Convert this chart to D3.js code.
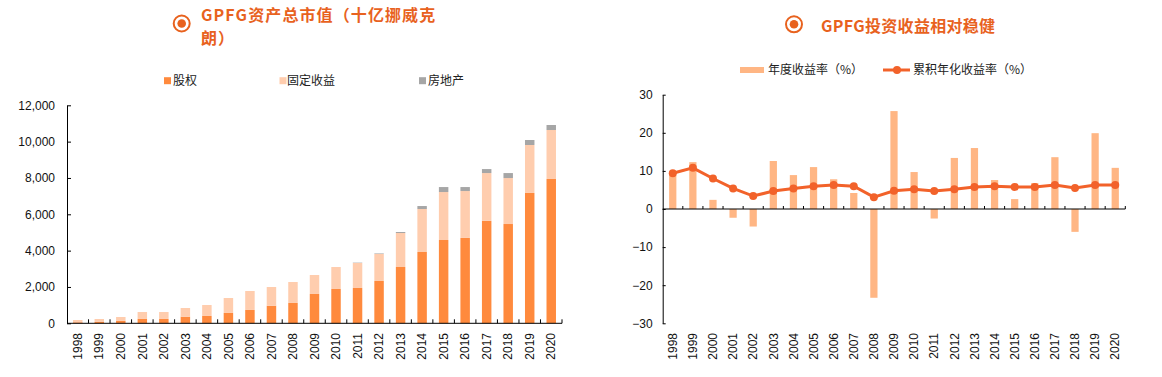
<!DOCTYPE html>
<html><head><meta charset="utf-8">
<script src="https://cdn.jsdelivr.net/npm/d3@7"></script>
<style>
body{margin:0;background:#fff;}
text{font-family:"Liberation Sans",Arial,sans-serif;}
.cjk{font-family:"Noto Sans CJK SC","Noto Sans",sans-serif;}
</style></head>
<body><svg id="c" width="1162" height="377"></svg>
<script>
const years = ["1998","1999","2000","2001","2002","2003","2004","2005","2006","2007","2008","2009","2010","2011","2012","2013","2014","2015","2016","2017","2018","2019","2020"];
// GPFG market value (billion NOK)
const equity = [55,75,130,240,240,365,405,570,735,965,1120,1615,1890,1945,2330,3100,3925,4585,4700,5640,5465,7175,7945];
const fixedIncome = [127,162,217,382,382,477,602,823,1043,1033,1153,1043,1208,1374,1484,1870,2365,2640,2580,2630,2530,2640,2695];
const realEstate = [0,0,0,0,0,0,0,0,0,0,0,0,0,20,30,55,165,275,220,220,275,275,275];
const leftYTicks = [0,2000,4000,6000,8000,10000,12000];
const leftSeriesNames = ["股权","固定收益","房地产"];
// returns (%)
const annualReturn = [9.4,12.3,2.4,-2.3,-4.6,12.6,8.9,11.0,7.8,4.2,-23.3,25.7,9.7,-2.5,13.4,16.0,7.6,2.6,6.8,13.6,-6.0,19.9,10.8];
const cumulativeReturn = [9.4,10.8,8.0,5.4,3.4,4.7,5.4,6.0,6.3,6.0,3.1,4.8,5.2,4.7,5.2,5.8,6.0,5.8,5.8,6.3,5.5,6.3,6.3];
const rightYTicks = [-30,-20,-10,0,10,20,30];
const rightSeriesNames = ["年度收益率（%）","累积年化收益率（%）"];

const C_EQ="#FF8A3D", C_FI="#FFCDAE", C_RE="#A6A6A6", C_BAR="#FFB684", C_LINE="#F2622A", C_TITLE="#E8621E";
const svg = d3.select("#c");

function titleIcon(cx, cy){
  svg.append("circle").attr("cx",cx).attr("cy",cy).attr("r",8).attr("fill","none").attr("stroke",C_TITLE).attr("stroke-width",2);
  svg.append("circle").attr("cx",cx).attr("cy",cy).attr("r",4.3).attr("fill",C_TITLE);
}

// ---------------- Left chart ----------------
titleIcon(181.7, 23.5);
const lt = svg.append("text").attr("class","cjk").attr("fill",C_TITLE).attr("font-size",16).attr("font-weight","bold").attr("letter-spacing",1.1);
lt.append("tspan").attr("x",201).attr("y",21).text("GPFG资产总市值（十亿挪威克");
lt.append("tspan").attr("x",201).attr("y",44).text("朗）");

const lx = d3.scaleBand().domain(years).range([67,562]);
const ly = d3.scaleLinear().domain([0,12000]).range([323.3,105.3]);
const stackData = years.map((y,i)=>({year:y, eq:equity[i], fi:fixedIncome[i], re:realEstate[i]}));
const stack = d3.stack().keys(["eq","fi","re"])(stackData);
const lcolors = [C_EQ,C_FI,C_RE];
const lbw = lx.bandwidth()*0.44;
stack.forEach((layer,k)=>{
  svg.append("g").selectAll("rect").data(layer).join("rect")
    .attr("x",d=>lx(d.data.year)+(lx.bandwidth()-lbw)/2)
    .attr("width",lbw)
    .attr("y",d=>ly(d[1]))
    .attr("height",d=>Math.max(0,ly(d[0])-ly(d[1])))
    .attr("fill",lcolors[k]);
});
const lyAxis = svg.append("g").attr("transform","translate(67,0)")
  .call(d3.axisLeft(ly).tickValues(leftYTicks).tickFormat(d3.format(",")).tickSizeInner(-4).tickSizeOuter(0).tickPadding(12));
lyAxis.selectAll("text").attr("font-size",12).attr("fill","#111").style("font-family","'Liberation Sans',Arial,sans-serif");
lyAxis.selectAll("line,path").attr("stroke","#000");
// x axis
const lxg = svg.append("g");
lxg.append("line").attr("x1",67).attr("x2",562).attr("y1",ly(0)).attr("y2",ly(0)).attr("stroke","#000");
lxg.selectAll("line.t").data(years).join("line").attr("class","t")
  .attr("x1",d=>lx(d)+lx.bandwidth()).attr("x2",d=>lx(d)+lx.bandwidth())
  .attr("y1",ly(0)).attr("y2",ly(0)-4).attr("stroke","#000");
lxg.selectAll("text").data(years).join("text")
  .attr("transform",d=>`translate(${lx(d)+lx.bandwidth()/2},333) rotate(-90)`)
  .attr("text-anchor","end").attr("dy","0.35em").attr("font-size",12).attr("fill","#111").text(d=>d);
// legend
const lleg = [[164,173],[279.5,287],[419,428]];
leftSeriesNames.forEach((n,i)=>{
  svg.append("rect").attr("x",lleg[i][0]).attr("y",77.2).attr("width",7).attr("height",7).attr("fill",lcolors[i]);
  svg.append("text").attr("class","cjk").attr("x",lleg[i][1]).attr("y",80.7).attr("dy","0.35em").attr("font-size",12).attr("fill","#222").text(n);
});

// ---------------- Right chart ----------------
titleIcon(794, 24.3);
svg.append("text").attr("class","cjk").attr("x",821).attr("y",32).attr("fill",C_TITLE).attr("font-size",16).attr("font-weight","bold").attr("letter-spacing",0.3).text("GPFG投资收益相对稳健");

const rx = d3.scaleBand().domain(years).range([662.7,1125.3]);
const ry = d3.scaleLinear().domain([-30,30]).range([323.3,94.7]);
const rbw = rx.bandwidth()*0.36;
svg.append("g").selectAll("rect").data(annualReturn).join("rect")
  .attr("x",(d,i)=>rx(years[i])+(rx.bandwidth()-rbw)/2)
  .attr("width",rbw)
  .attr("y",d=>ry(Math.max(0,d)))
  .attr("height",d=>Math.abs(ry(d)-ry(0)))
  .attr("fill",C_BAR);
const ryAxis = svg.append("g").attr("transform","translate(662.7,0)")
  .call(d3.axisLeft(ry).tickValues(rightYTicks).tickFormat(d3.format("d")).tickSizeInner(-3).tickSizeOuter(0).tickPadding(10));
ryAxis.selectAll("text").attr("font-size",12).attr("fill","#111").style("font-family","'Liberation Sans',Arial,sans-serif");
ryAxis.selectAll("line,path").attr("stroke","#000");
const rxg = svg.append("g");
rxg.append("line").attr("x1",662.7).attr("x2",1125.3).attr("y1",ry(0)).attr("y2",ry(0)).attr("stroke","#000");
rxg.selectAll("line.t").data(years).join("line").attr("class","t")
  .attr("x1",d=>rx(d)+rx.bandwidth()).attr("x2",d=>rx(d)+rx.bandwidth())
  .attr("y1",ry(0)).attr("y2",ry(0)-3).attr("stroke","#000");
rxg.selectAll("text").data(years).join("text")
  .attr("transform",d=>`translate(${rx(d)+rx.bandwidth()/2},333) rotate(-90)`)
  .attr("text-anchor","end").attr("dy","0.35em").attr("font-size",12).attr("fill","#111").text(d=>d);
// line
const line = d3.line().x((d,i)=>rx(years[i])+rx.bandwidth()/2).y(d=>ry(d));
svg.append("path").datum(cumulativeReturn).attr("d",line).attr("fill","none").attr("stroke",C_LINE).attr("stroke-width",3);
svg.append("g").selectAll("circle").data(cumulativeReturn).join("circle")
  .attr("cx",(d,i)=>rx(years[i])+rx.bandwidth()/2).attr("cy",d=>ry(d)).attr("r",4).attr("fill",C_LINE);
// legend
svg.append("rect").attr("x",740).attr("y",67).attr("width",24).attr("height",6).attr("fill",C_BAR);
svg.append("text").attr("class","cjk").attr("x",768).attr("y",70).attr("dy","0.35em").attr("font-size",12).attr("fill","#222").text(rightSeriesNames[0]);
svg.append("line").attr("x1",883).attr("x2",910).attr("y1",70).attr("y2",70).attr("stroke",C_LINE).attr("stroke-width",3);
svg.append("circle").attr("cx",897).attr("cy",70).attr("r",4).attr("fill",C_LINE);
svg.append("text").attr("class","cjk").attr("x",913).attr("y",70).attr("dy","0.35em").attr("font-size",12).attr("fill","#222").text(rightSeriesNames[1]);
</script></body></html>
